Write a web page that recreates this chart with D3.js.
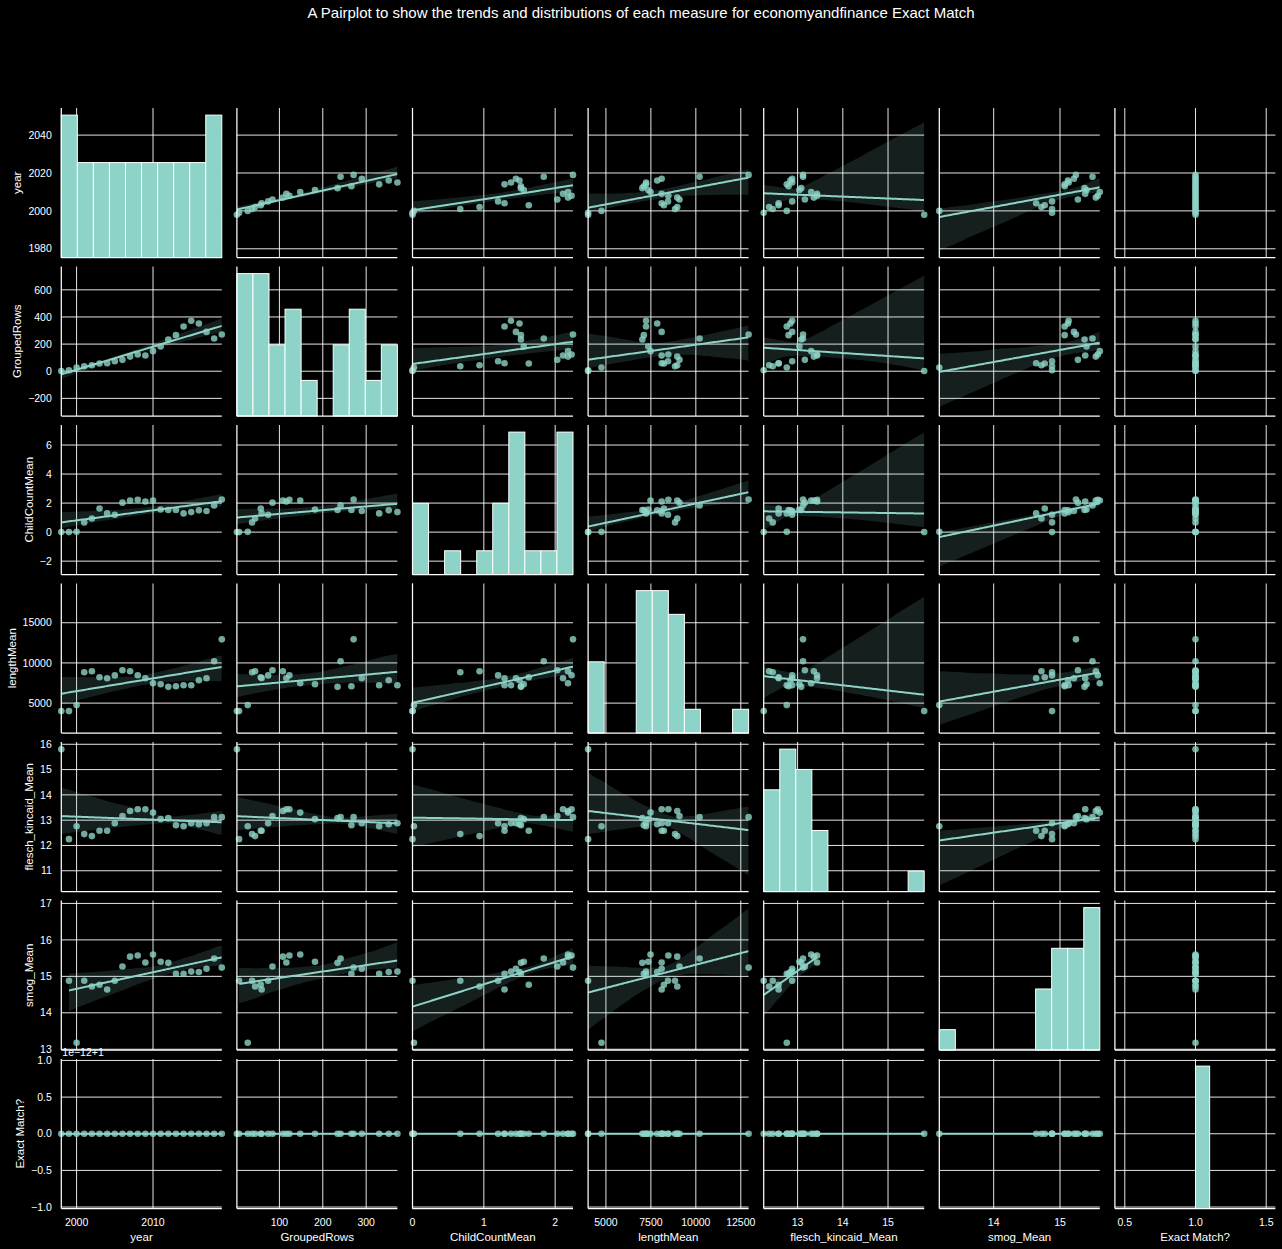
<!DOCTYPE html>
<html><head><meta charset="utf-8">
<script src="https://cdn.jsdelivr.net/npm/d3@7"></script>
<style>
body{margin:0;background:#000;}
svg text{font-family:"Liberation Sans",Arial,sans-serif;fill:#fff;}
</style>
</head><body>
<svg id="chart" width="1282" height="1249"></svg>
<script>
// ---------------- data ----------------
const years = [1998,1999,2000,2001,2002,2003,2004,2005,2006,2007,2008,2009,2010,2011,2012,2013,2014,2015,2016,2017,2018,2019];
const groupedRows = [2,7,27,37,44,57,59,74,84,108,123,116,148,182,234,266,330,372,352,290,241,271];
const childCountMean = [0,0,0.02,0.67,0.94,1.63,1.29,1.2,2.03,2.18,2.23,2.11,2.18,1.56,1.52,1.52,1.29,1.38,1.5,1.45,1.84,2.25];
const lengthMean = [4008,4008,4752,8843,8967,8223,8099,8450,9091,8967,8471,8099,7479,7355,7025,7107,7231,7231,7851,8099,10207,12934];
const fleschKincaidMean = [15.8,12.25,12.76,12.45,12.37,12.58,12.58,12.88,13.16,13.36,13.43,13.43,13.3,13.04,13.08,12.8,12.76,12.88,12.84,12.88,13.12,13.12];
const smogMean = [null,14.88,13.18,14.88,14.72,14.77,14.64,14.88,15.27,15.54,15.57,15.38,15.6,15.4,15.37,15.07,15.07,15.13,15.12,15.21,15.49,15.24];
const exactMatch = [1,1,1,1,1,1,1,1,1,1,1,1,1,1,1,1,1,1,1,1,1,1];

const varNames = ["year","GroupedRows","ChildCountMean","lengthMean","flesch_kincaid_Mean","smog_Mean","Exact Match?"];
const varValues = [years, groupedRows, childCountMean, lengthMean, fleschKincaidMean, smogMean, exactMatch];

// tick labels
const xTicks = [[2000,2010],[100,200,300],[0,1,2],[5000,7500,10000,12500],[13,14,15],[14,15],[0.5,1.0,1.5]];
const yTicks = [[1980,2000,2020,2040],[-200,0,200,400,600],[-2,0,2,4,6],[5000,10000,15000],[11,12,13,14,15,16],[13,14,15,16,17],[-1.0,-0.5,0.0,0.5,1.0]];
// shared y limits of each row (row 6 is shown as offset from 1, in units of 1e-12)
const yLimits = [[1975.4,2054.3],[-330,772],[-2.92,7.38],[1283,19882],[10.18,16.09],[12.98,17.08],[-1.02,1.02]];
const exactXLimits = [0.43,1.565];
const exactOffset = 1, exactScale = 1e-12;

const title = "A Pairplot to show the trends and distributions of each measure for economyandfinance Exact Match";

// ---------------- layout ----------------
const colLeft0 = 61.3, colStep = 175.6, cellW = 160.5;
const rowTop0 = 108, rowStep = 158.5, cellH = 149.5;
const color = "#8dd3c7";
const minus = s => s.replace(/-/g, "\u2212");

const svg = d3.select("#chart");
svg.append("rect").attr("width",1282).attr("height",1249).attr("fill","#000");

svg.append("text").attr("x",641).attr("y",18).attr("text-anchor","middle")
  .style("font-size","15px").text(title);

// ---------------- helpers ----------------
function mulberry32(a){return function(){a|=0;a=a+0x6D2B79F5|0;let t=Math.imul(a^a>>>15,1|a);t=t+Math.imul(t^t>>>7,61|t)^t;return((t^t>>>14)>>>0)/4294967296;};}
function fit(xs, ys){
  const n = xs.length; const mx = d3.mean(xs), my = d3.mean(ys);
  let sxx=0, sxy=0;
  for(let i=0;i<n;i++){sxx+=(xs[i]-mx)**2; sxy+=(xs[i]-mx)*(ys[i]-my);}
  if(sxx===0) return null;
  const b = sxy/sxx; return [my-b*mx, b];
}
function regression(xs, ys, seed){
  const base = fit(xs, ys); if(!base) return null;
  const lo = d3.min(xs), hi = d3.max(xs);
  const grid = d3.range(100).map(i => lo + (hi-lo)*i/99);
  const rng = mulberry32(seed);
  const preds = grid.map(()=>[]);
  const n = xs.length;
  for(let b=0;b<1000;b++){
    const bx=[], by=[];
    for(let i=0;i<n;i++){const k=Math.floor(rng()*n); bx.push(xs[k]); by.push(ys[k]);}
    const f = fit(bx, by); if(!f) continue;
    grid.forEach((g,j)=>preds[j].push(f[0]+f[1]*g));
  }
  return grid.map((g,j)=>{
    const p = preds[j].slice().sort(d3.ascending);
    return {x:g, y:base[0]+base[1]*g, lo:d3.quantileSorted(p,0.025), hi:d3.quantileSorted(p,0.975)};
  });
}
const toRowValue = (r, v) => r===6 ? (v-exactOffset)/exactScale : v;

// scales
const xScales = varValues.map((vals,c)=>{
  const left = colLeft0 + c*colStep;
  let dom = d3.extent(vals.filter(v=>v!=null));
  if(c===6) dom = exactXLimits;
  return d3.scaleLinear().domain(dom).range([left, left+cellW]);
});
const yScales = yLimits.map((lim,r)=>{
  const top = rowTop0 + r*rowStep;
  return d3.scaleLinear().domain(lim).range([top+cellH, top]);
});

const fmtX = (c,v) => c===6 ? d3.format(".1f")(v) : minus(d3.format("d")(v));
const fmtY = (r,v) => r===6 ? minus(d3.format(".1f")(v)) : minus(d3.format("d")(v));

let seed = 7;
for(let r=0;r<7;r++){
  for(let c=0;c<7;c++){
    const xs = xScales[c], ys = yScales[r];
    const g = svg.append("g");
    const [x0,x1] = xs.range(), [y1,y0] = ys.range();
    // grid
    g.selectAll("line.vx").data(xTicks[c]).join("line")
      .attr("x1",d=>xs(d)).attr("x2",d=>xs(d)).attr("y1",y0).attr("y2",y1)
      .attr("stroke","#fff").attr("stroke-width",0.9);
    g.selectAll("line.hy").data(yTicks[r]).join("line").attr("class","hy")
      .attr("x1",x0).attr("x2",x1).attr("y1",d=>ys(d)).attr("y2",d=>ys(d))
      .attr("stroke","#fff").attr("stroke-width",0.9);

    if(r===c){
      const vals = varValues[c].filter(v=>v!=null);
      let [lo,hi] = d3.extent(vals);
      if(lo===hi){lo-=0.5; hi+=0.5;}
      const w = (hi-lo)/10;
      const counts = d3.range(10).map(()=>0);
      vals.forEach(v=>{let k=Math.floor((v-lo)/w); if(k>9)k=9; if(k<0)k=0; counts[k]++;});
      const bins = counts.map((n,k)=>({x0:lo+k*w, x1:lo+(k+1)*w, n}));
      const hy = d3.scaleLinear().domain([0, d3.max(counts)*1.05]).range([y1,y0]);
      g.selectAll("rect").data(bins.filter(b=>b.n>0)).join("rect")
        .attr("x",d=>xs(d.x0)).attr("width",d=>xs(d.x1)-xs(d.x0))
        .attr("y",d=>hy(d.n)).attr("height",d=>y1-hy(d.n))
        .attr("fill",color).attr("stroke","#fff").attr("stroke-width",1);
    } else {
      const pts = [];
      varValues[c].forEach((xv,i)=>{
        const yv = varValues[r][i];
        if(xv!=null && yv!=null) pts.push([xv, toRowValue(r,yv)]);
      });
      g.selectAll("circle").data(pts).join("circle")
        .attr("cx",d=>xs(d[0])).attr("cy",d=>ys(d[1])).attr("r",3.3)
        .attr("fill",color).attr("fill-opacity",0.8);
      const reg = regression(pts.map(p=>p[0]), pts.map(p=>p[1]), seed++);
      if(reg){
        const clipId = `clip${r}_${c}`;
        svg.append("clipPath").attr("id",clipId).append("rect")
          .attr("x",x0).attr("y",y0).attr("width",x1-x0).attr("height",y1-y0);
        g.append("path").datum(reg)
          .attr("clip-path",`url(#${clipId})`)
          .attr("d", d3.area().x(d=>xs(d.x)).y0(d=>ys(d.lo)).y1(d=>ys(d.hi)))
          .attr("fill",color).attr("fill-opacity",0.15);
        g.append("path").datum(reg)
          .attr("clip-path",`url(#${clipId})`)
          .attr("d", d3.line().x(d=>xs(d.x)).y(d=>ys(d.y)))
          .attr("fill","none").attr("stroke",color).attr("stroke-width",2);
      }
    }
    // spines
    g.append("line").attr("x1",x0).attr("x2",x0).attr("y1",y0).attr("y2",y1).attr("stroke","#fff").attr("stroke-width",1.25);
    g.append("line").attr("x1",x0).attr("x2",x1).attr("y1",y1).attr("y2",y1).attr("stroke","#fff").attr("stroke-width",1.25);

    // ticks labels
    if(c===0){
      const tl = g.selectAll("text.yt").data(yTicks[r]).join("text").attr("class","yt")
        .attr("x",x0-9.5).attr("y",d=>ys(d)).attr("dy","0.35em").attr("text-anchor","end")
        .style("font-size","10.5px").text(d=>fmtY(r,d));
      let minLeft = Infinity;
      tl.each(function(){const bb=this.getBBox(); minLeft=Math.min(minLeft,bb.x);});
      const yc = (y0+y1)/2;
      g.append("text").attr("transform",`translate(${minLeft-7},${yc}) rotate(-90)`)
        .attr("text-anchor","middle").style("font-size","11.5px").text(varNames[r]);
      if(r===6){
        g.append("text").attr("x",x0+1).attr("y",y0-3).style("font-size","10.5px").text("1e\u221212+1");
      }
    }
    if(r===6){
      g.selectAll("text.xt").data(xTicks[c]).join("text").attr("class","xt")
        .attr("x",d=>xs(d)).attr("y",y1+17.5).attr("text-anchor","middle")
        .style("font-size","10.5px").text(d=>fmtX(c,d));
      g.append("text").attr("x",(x0+x1)/2).attr("y",y1+32).attr("text-anchor","middle")
        .style("font-size","11.5px").text(varNames[c]);
    }
  }
}
</script>
</body></html>
